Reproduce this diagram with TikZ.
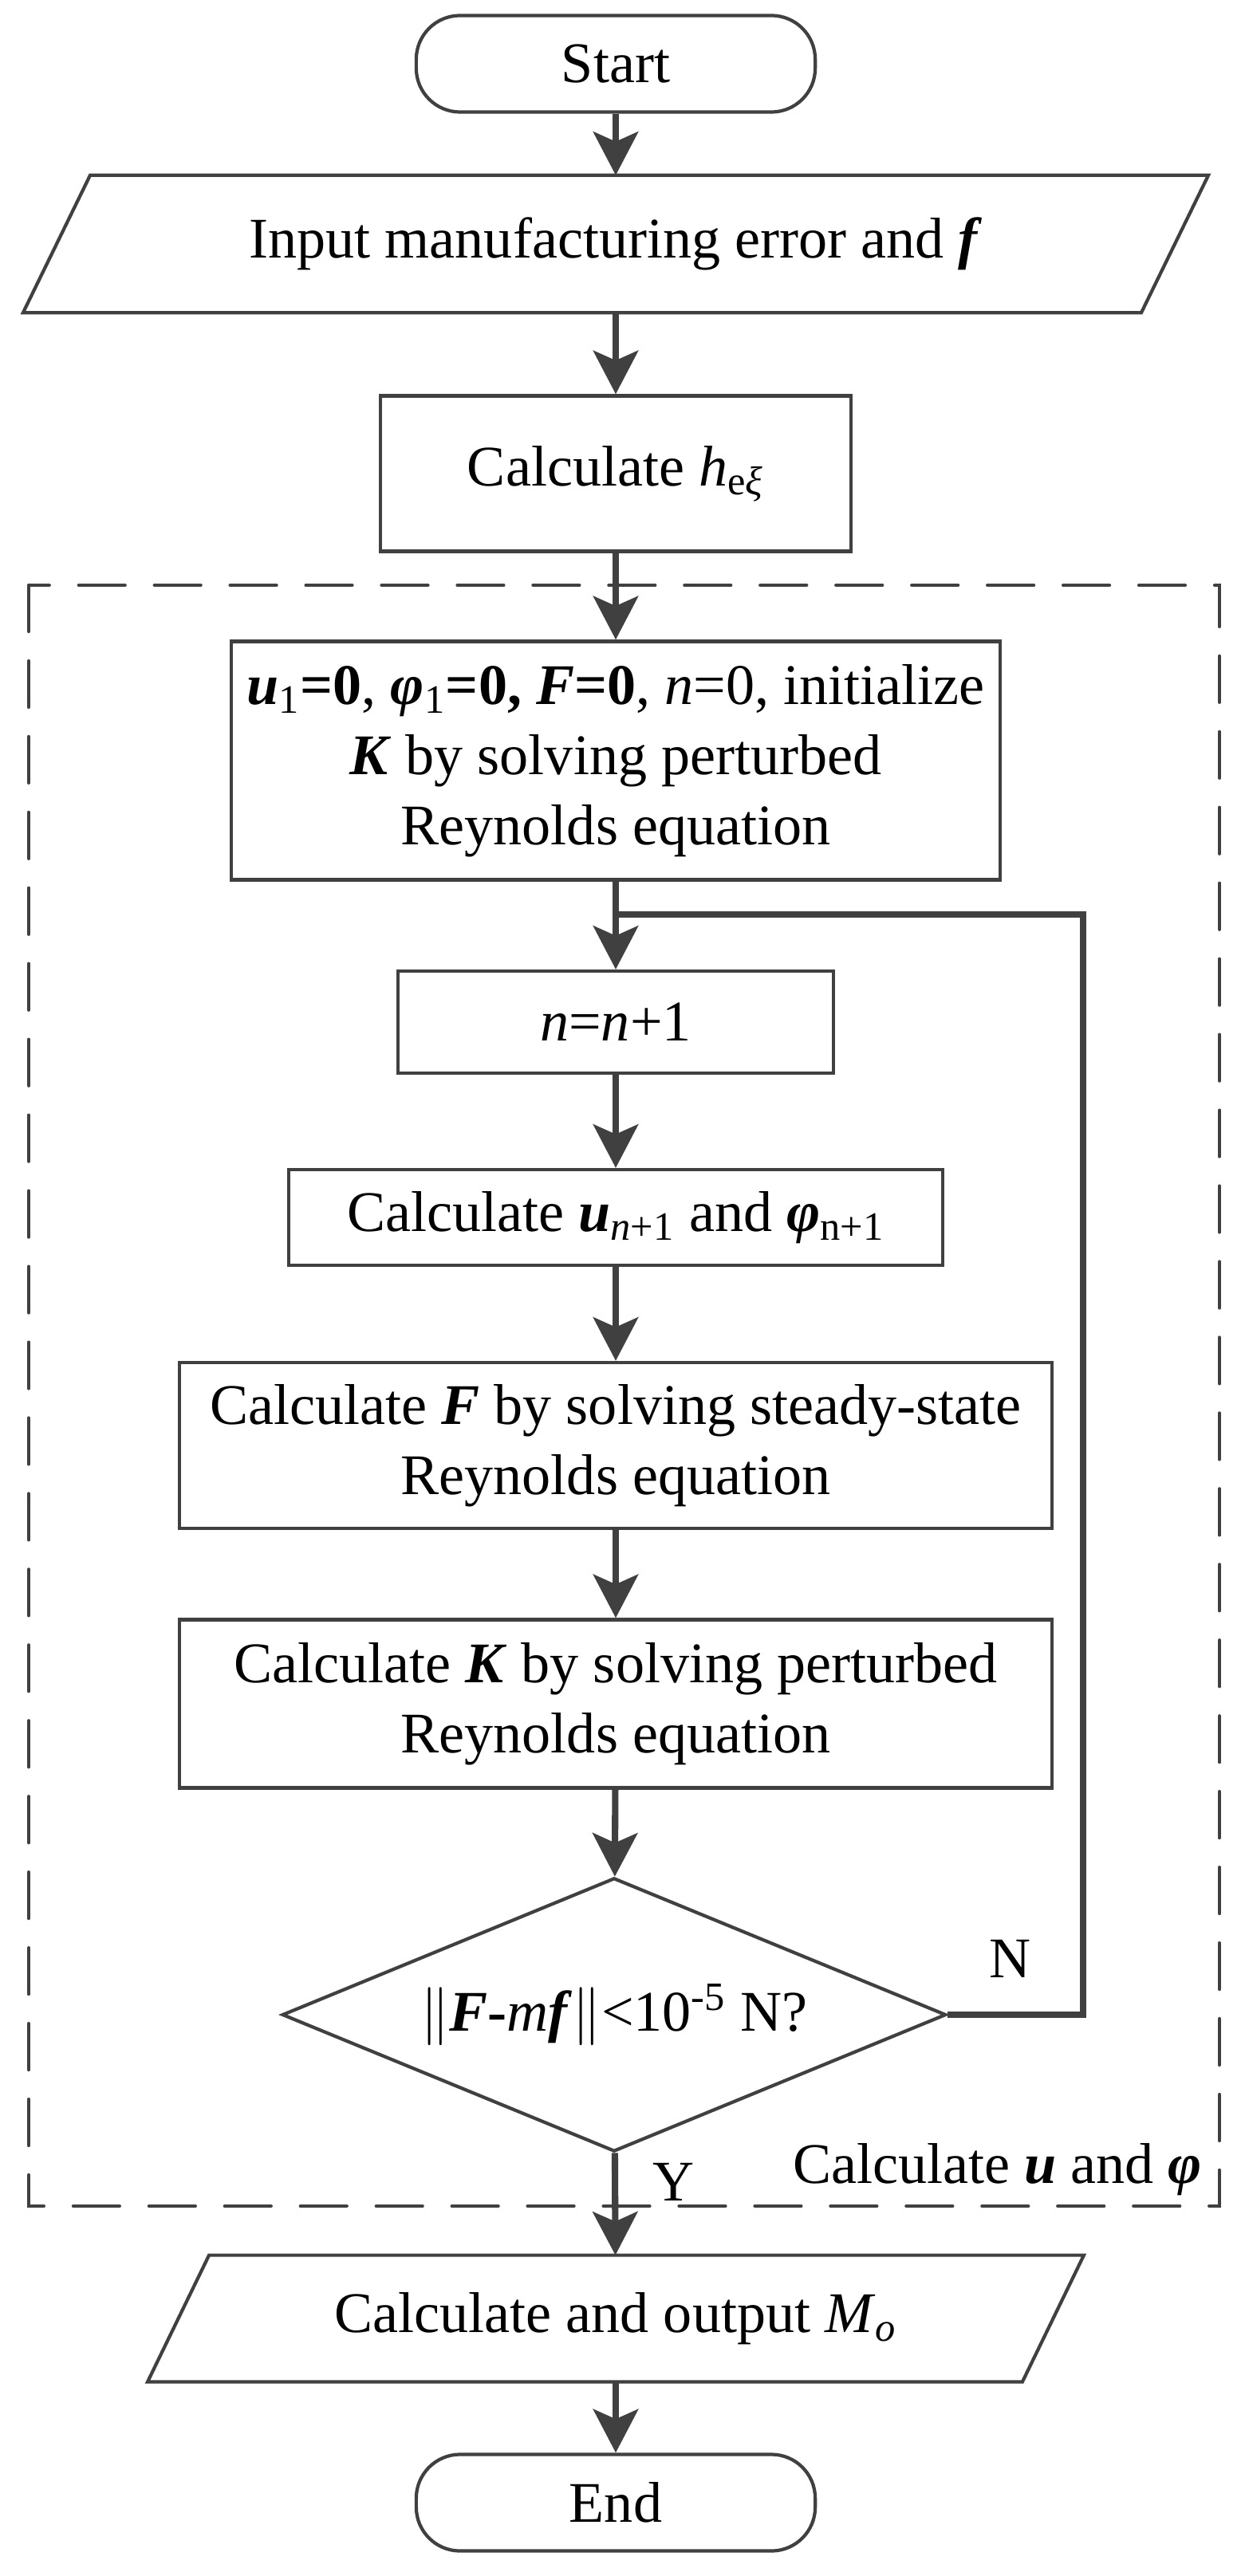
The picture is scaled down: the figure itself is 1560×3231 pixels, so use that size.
\documentclass[tikz,border=0pt]{standalone}
\usepackage{fontspec}
\setmainfont{Liberation Serif}
\usetikzlibrary{arrows.meta,shapes.geometric}
\definecolor{linegray}{HTML}{404040}
\newcommand{\bi}[1]{\textbf{\textit{#1}}}

\begin{document}
\begin{tikzpicture}[x=0.01cm,y=-0.01cm,line width=1.2pt,
  every node/.style={font=\fontsize{20.5}{25}\selectfont},
  terminal/.style={draw=linegray,rectangle,rounded corners=0.55cm,minimum width=5cm,minimum height=1.21cm},
  procbox/.style={draw=linegray,rectangle,align=center,inner sep=0pt},
  iobox/.style={rectangle,inner sep=0pt},
  decision/.style={draw=linegray,diamond,aspect=2.42,inner sep=0pt,minimum width=8.32cm,minimum height=3.43cm},
  arr/.style={draw=linegray,line width=2.3pt,-{Stealth[length=15.5pt,width=16pt,inset=3.5pt]}},
  loopline/.style={draw=linegray,line width=2.3pt}]
\useasboundingbox (0,0) rectangle (1560,3231);
% group of the iteration
\draw[linegray,line cap=round,dash pattern=on 16.5pt off 10.5pt] (36,734) rectangle (1529,2767);
\node[anchor=base east,inner sep=0pt] (grp) at (1509,2738) {Calculate \bi{u} and \bi{φ}};

\node[terminal] (start) at (772,80) {Start};
\node[iobox,minimum width=13.97cm,minimum height=1.68cm] (input) at (772,306) {Input manufacturing error and \bi{f}};
\node[procbox,minimum width=5.9cm,minimum height=1.95cm] (calch) at (772,594) {Calculate \textit{h}\textsubscript{e\textit{ξ}}};
\node[procbox,minimum width=9.63cm,minimum height=2.99cm] (init) at (772,954) {\bi{u}\textsubscript{1}\textbf{=0}, \bi{φ}\textsubscript{1}\textbf{=0, \textit{F}=0}, \textit{n}=0, initialize\\\bi{K} by solving perturbed\\Reynolds equation};
\coordinate (junc) at (772,1147);
\coordinate (loopx) at (1358,1147);
\node[procbox,minimum width=5.45cm,minimum height=1.28cm] (nn) at (772,1282) {\textit{n}=\textit{n}+1};
\node[procbox,minimum width=8.19cm,minimum height=1.2cm] (calcu) at (772,1527) {Calculate \bi{u}\textsubscript{\textit{n}+1} and \bi{φ}\textsubscript{n+1}};
\node[procbox,minimum width=10.94cm,minimum height=2.08cm] (calcF) at (772,1813) {Calculate \bi{F} by solving steady-state\\Reynolds equation};
\node[procbox,minimum width=10.94cm,minimum height=2.11cm] (calcK) at (772,2137) {Calculate \bi{K} by solving perturbed\\Reynolds equation};
\node[decision] (check) at (770,2527) {$\Vert$\bi{F}\textbf{-}\textit{m}\bi{f}$\Vert$<10\textsuperscript{-5} N?};
\node (no) at (1267,2457) {N};
\node (yes) at (845,2737) {Y};
\node[iobox,minimum width=10.92cm,minimum height=1.545cm] (output) at (772,2908) {Calculate and output \textit{M}\textsubscript{\textit{o}}};
\node[terminal] (end) at (772,3139) {End};

% slanted input/output boxes
\foreach \n/\s in {input/0.42cm,output/0.385cm}
  \draw[linegray] ([xshift=\s]\n.north west) -- ([xshift=\s]\n.north east) -- ([xshift=-\s]\n.south east) -- ([xshift=-\s]\n.south west) -- cycle;

\draw[arr] (start) -- (input);
\draw[arr] (input) -- (calch);
\draw[arr] (calch) -- (init);
\draw[arr] (init) -- (nn);
\draw[arr] (nn) -- (calcu);
\draw[arr] (calcu) -- (calcF);
\draw[arr] (calcF) -- (calcK);
\draw[arr] (calcK) -- (check);
\draw[loopline] (check.east) -| (loopx) -- (junc);
\draw[arr] (check) -- (output);
\draw[arr] (output) -- (end);
\end{tikzpicture}
\end{document}
